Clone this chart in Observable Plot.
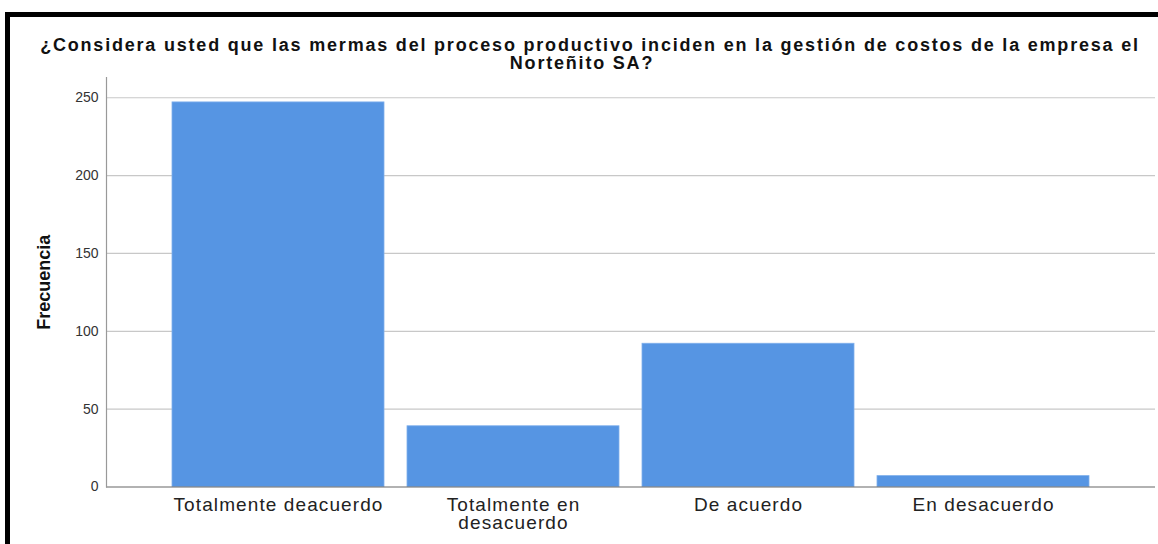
<!DOCTYPE html>
<html>
<head>
<meta charset="utf-8">
<script src="https://cdn.jsdelivr.net/npm/d3@7"></script>
<script src="https://cdn.jsdelivr.net/npm/@observablehq/plot@0.6"></script>
<style>
  html, body { margin: 0; padding: 0; background: #fff; }
  body { width: 1158px; height: 544px; position: relative; overflow: hidden; font-family: "Liberation Sans", Arial, sans-serif; }
  #bt { position: absolute; left: 5px; top: 12px; width: 1153px; height: 5px; background: #000; }
  #bl { position: absolute; left: 5px; top: 12px; width: 5px; height: 532px; background: #000; }
  .tl { position: absolute; left: 0; text-align: center; font-weight: bold; font-size: 18px; line-height: 18px; color: #111; letter-spacing: 1.8px; white-space: nowrap; }
  #t1 { top: 36px; width: 1180px; }
  #t2 { top: 54px; width: 1164px; }
  #chart { position: absolute; left: 0; top: 0; }
  #chart g[aria-label="x-axis tick label"] text { letter-spacing: 1.1px; }
</style>
</head>
<body>
<div id="chart"></div>
<div id="bt"></div>
<div id="bl"></div>
<div class="tl" id="t1">¿Considera usted que las mermas del proceso productivo inciden en la gestión de costos de la empresa el</div>
<div class="tl" id="t2">Norteñito SA?</div>
<script>
const categories = ["Totalmente deacuerdo", "Totalmente en desacuerdo", "De acuerdo", "En desacuerdo"];
const categoryLabels = ["Totalmente deacuerdo", "Totalmente en\ndesacuerdo", "De acuerdo", "En desacuerdo"];
const frecuencias = [247, 39, 92, 7];
const yTicks = [0, 50, 100, 150, 200, 250];
const yLabel = "Frecuencia";

const data = categories.map((c, i) => ({categoria: c, frecuencia: frecuencias[i]}));
const labelOf = new Map(categories.map((c, i) => [c, categoryLabels[i]]));

const chart = Plot.plot({
  width: 1158,
  height: 544,
  marginLeft: 106,
  marginRight: 3,
  marginTop: 77,
  marginBottom: 57.5,
  style: {fontFamily: "'Liberation Sans', Arial, sans-serif", background: "transparent"},
  x: {domain: categories, paddingInner: 0.1, paddingOuter: 0.275},
  y: {domain: [0, 263]},
  marks: [
    Plot.ruleY(yTicks.filter(d => d > 0), {stroke: "#c8c8c8", strokeWidth: 1.2}),
    Plot.barY(data, {x: "categoria", y: "frecuencia", fill: "#5695e3", stroke: "#7fb0ec", strokeWidth: 0.8}),
    Plot.ruleY([0], {stroke: "#666", strokeWidth: 1.2}),
    Plot.frame({anchor: "left", stroke: "#999", strokeWidth: 1.2}),
    Plot.axisY({ticks: yTicks, tickSize: 0, tickPadding: 8, fontSize: 14, label: null, fill: "#333"}),
    Plot.axisX({tickSize: 0, tickPadding: 11, fontSize: 19, label: null, fill: "#222", lineHeight: 0.95, tickFormat: d => labelOf.get(d)}),
    Plot.text([yLabel], {frameAnchor: "left", rotate: -90, dx: -62, text: d => d, fontSize: 18, fontWeight: "bold", fill: "#111", textAnchor: "middle", lineAnchor: "middle"})
  ]
});
document.getElementById("chart").appendChild(chart);
</script>
</body>
</html>
